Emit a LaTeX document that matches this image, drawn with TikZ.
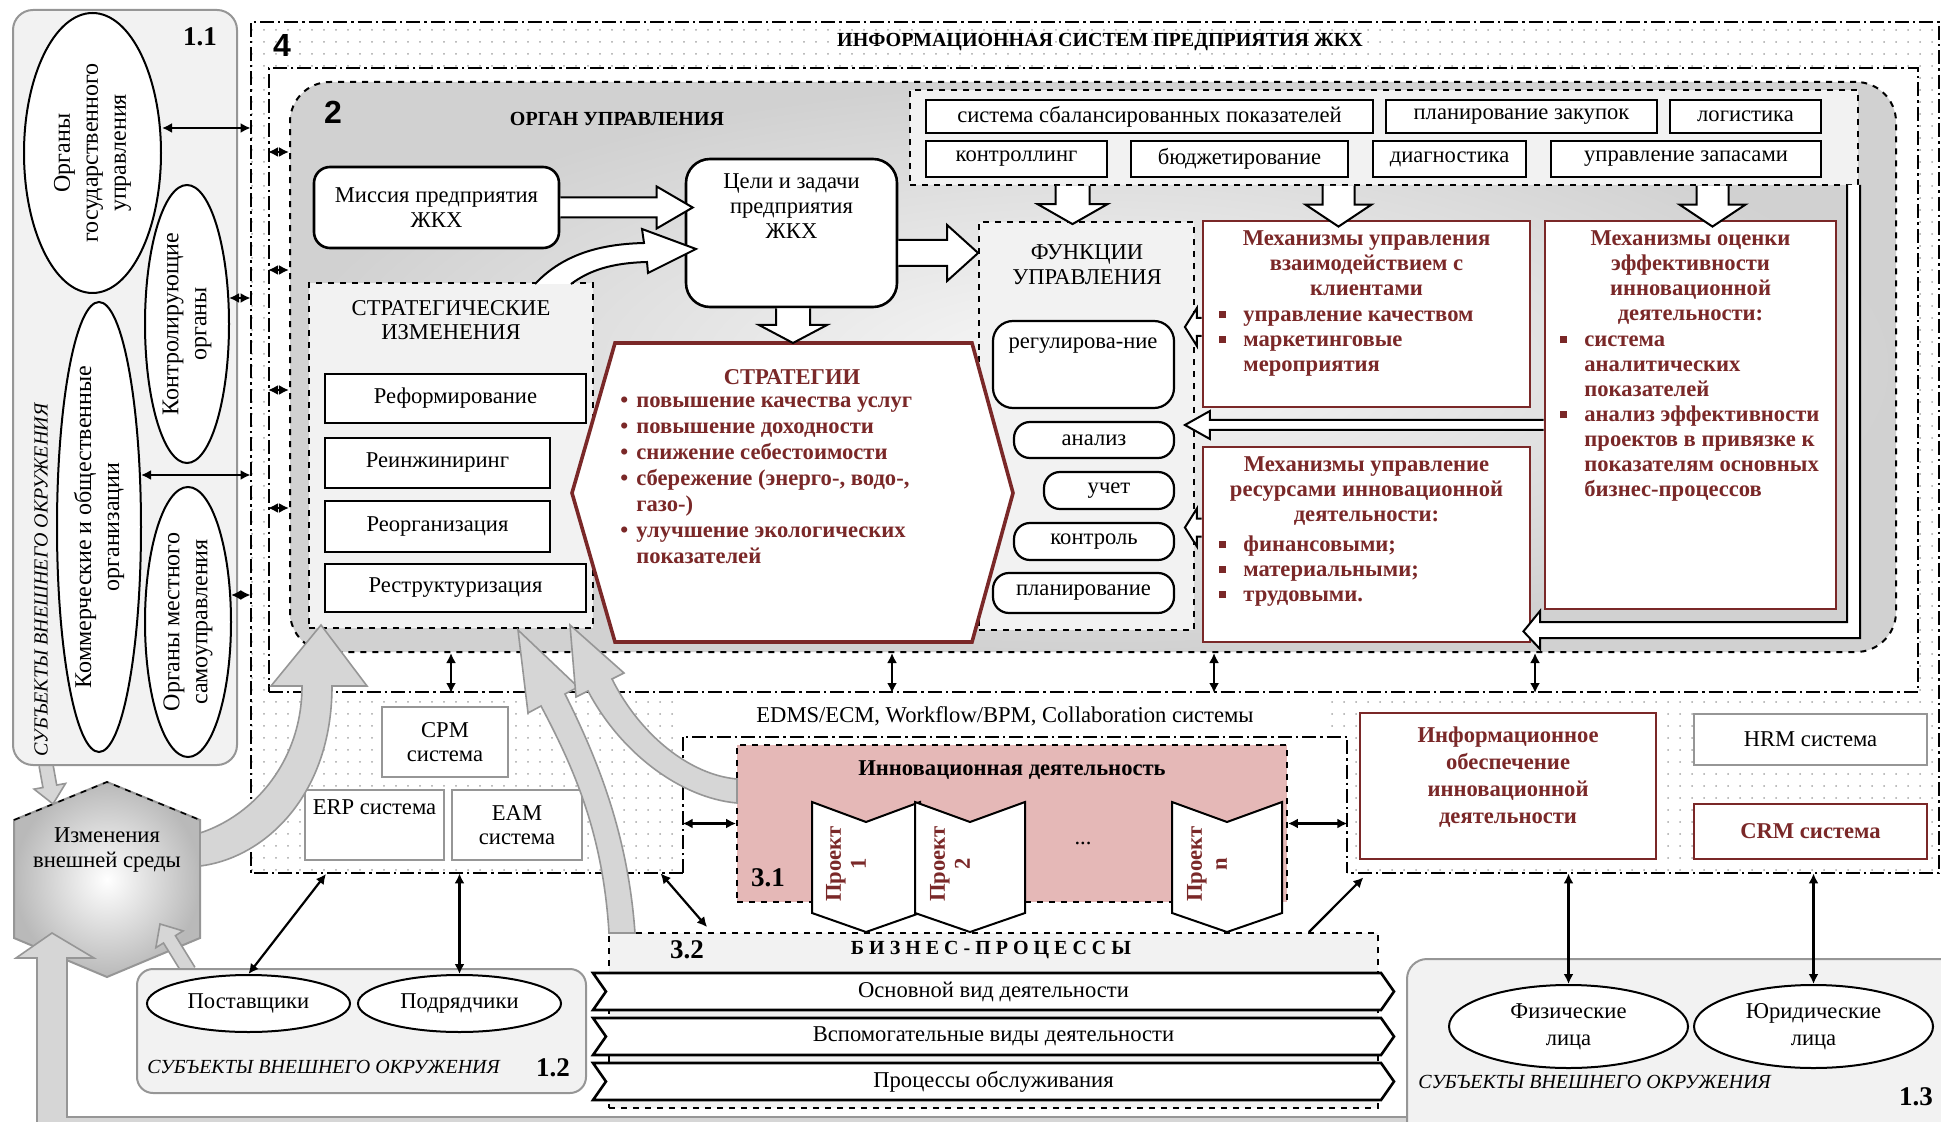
\documentclass[tikz,border=0pt]{standalone}
\usepackage{fontspec}
\setmainfont{Liberation Serif}
\setsansfont{Liberation Sans}
\usetikzlibrary{shapes.geometric,shapes.symbols,arrows.meta,positioning,calc,patterns.meta}
\definecolor{mechred}{RGB}{122,40,40}
\definecolor{pinkbox}{RGB}{229,184,183}
\definecolor{panelgray}{RGB}{242,242,242}
\definecolor{arrowgray}{RGB}{214,214,214}
\definecolor{edgegray}{RGB}{150,150,150}
\definecolor{dotgray}{RGB}{165,165,165}
\newcommand{\normtext}{\fontsize{11.3}{12.3}\selectfont}
\newcommand{\boldtext}{\fontsize{11.3}{12.5}\selectfont\bfseries}
\newcommand{\sq}{\raisebox{1.5pt}{\rule{3.4pt}{3.4pt}}\hspace*{8.6pt}}
\newcommand{\ind}{\hspace*{12pt}}
\newcommand{\rb}{\textbullet\hspace*{4pt}}
\newcommand{\rind}{\hphantom{\textbullet}\hspace*{4pt}}
% block arrow: [style]{from}{to}{shaft half}{head half}{head length}
\newcommand{\blockarrow}[6][hollow]{%
  \coordinate (ba-s) at (#2);
  \coordinate (ba-t) at (#3);
  \coordinate (ba-h) at ($(ba-t)!#6!(ba-s)$);
  \path[#1, draw=none] ($(ba-s)!#4!90:(ba-t)$) -- ($(ba-h)!#4!90:(ba-t)$) -- ($(ba-h)!#5!90:(ba-t)$) -- (ba-t) -- ($(ba-h)!#5!-90:(ba-t)$) -- ($(ba-h)!#4!-90:(ba-t)$) -- ($(ba-s)!#4!-90:(ba-t)$) -- cycle;
  \path[#1, fill=none] ($(ba-s)!#4!90:(ba-t)$) -- ($(ba-h)!#4!90:(ba-t)$) -- ($(ba-h)!#5!90:(ba-t)$) -- (ba-t) -- ($(ba-h)!#5!-90:(ba-t)$) -- ($(ba-h)!#4!-90:(ba-t)$) -- ($(ba-s)!#4!-90:(ba-t)$);
}

\begin{document}
\begin{tikzpicture}[
x=0.5pt, y=-0.5pt,
font=\normtext,
boxspan/.style args={#1/#2/#3/#4}{minimum width={(#3-#1)*0.5pt}, minimum height={(#4-#2)*0.5pt}, at={({(#1+#3)/2},{(#2+#4)/2})}},
box/.style={draw, line width=1.2pt, fill=white, inner sep=0pt, align=center},
softbox/.style={draw=edgegray, line width=1pt, fill=white, inner sep=0pt, align=center},
redbox/.style={draw=mechred, line width=1.4pt, fill=white, inner sep=0pt},
panel/.style={draw, dashed, line width=0.9pt, fill=panelgray, inner sep=0pt},
oval/.style={draw, ellipse, line width=1pt, fill=white, inner sep=0pt, align=center},
ovaltext/.style={rotate=90, align=center, font=\fontsize{12}{14}\selectfont, inner sep=0pt},
envpanel/.style={draw=edgegray, fill=panelgray, line width=1pt, rounded corners=10pt, inner sep=0pt},
isframe/.style={line width=1pt, dash pattern=on 7pt off 2pt on 1.2pt off 2pt},
dblarrow/.style={{Latex[length=5pt,width=5pt]}-{Latex[length=5pt,width=5pt]}, line width=1.1pt},
onearrow/.style={-{Latex[length=5pt,width=5pt]}, line width=1.1pt},
hollow/.style={draw, line width=1pt, fill=white},
grayarrow/.style={draw=edgegray, line width=0.8pt, fill=arrowgray},
redtitle/.style={text=mechred, font=\boldtext, align=center, inner sep=0pt},
redlist/.style={text=mechred, font=\boldtext, align=left, inner sep=0pt},
number/.style={font=\fontsize{13.5}{14}\selectfont\bfseries, inner sep=0pt},
bignum/.style={font=\fontsize{16}{16}\selectfont\sffamily\bfseries, inner sep=0pt},
subject/.style={font=\fontsize{10}{12}\selectfont\itshape, inner sep=0pt},
procarrow/.style={draw, line width=1.3pt, fill=white, signal, signal to=east, signal from=west, signal pointer angle=110, minimum width=400.5pt, minimum height=18.5pt, inner sep=0pt},
project/.style={draw, line width=1pt, fill=white},
projtext/.style={rotate=90, text=mechred, font=\boldtext, align=center, inner sep=0pt}
]
\useasboundingbox (0,0) rectangle (1941,1122);
\clip (0,0) rectangle (1941,1122);

% information system of the enterprise
\node[boxspan=251/22/1939/873, inner sep=0pt, pattern={Dots[distance=6pt, radius=0.5pt]}, pattern color=dotgray] (sys4) {};
\node[boxspan=683/737/1347/873, inner sep=0pt, fill=white] (frame31) {};
\draw[isframe] (frame31.south west) -- (sys4.south west) -- (sys4.north west) -- (sys4.north east) -- (sys4.south east) -- (frame31.south east);
\draw[isframe] (frame31.south west) -- (frame31.north west) -- (frame31.north east) -- (frame31.south east);
\node[boxspan=269/68/1918/692, inner sep=0pt, fill=white, draw, isframe] (inner4) {};
\node[bignum] (n4) at (282,45) {4};
\node[font=\fontsize{10}{12}\selectfont\bfseries] (istitle) at (1100,42) {ИНФОРМАЦИОННАЯ СИСТЕМ ПРЕДПРИЯТИЯ ЖКХ};
\node[boxspan=683/700/1327/733, fill=white, inner sep=0pt] (edms) {EDMS/ECM, Workflow/BPM, Collaboration системы};

% management body
\node[boxspan=290/82/1896/652, inner sep=0pt, draw, dashed, line width=1pt, rounded corners=20pt, inner color=gray!5, outer color=gray!36] (organ) {};
\node[bignum] (n2) at (333,112) {2};
\node[font=\fontsize{10}{12}\selectfont\bfseries] (organtitle) at (617,119) {ОРГАН УПРАВЛЕНИЯ};

\node[panel, boxspan=910/90/1858/185] (metrics) {};
\node[box, boxspan=926/100/1373/133] (ssp) {система сбалансированных показателей};
\node[box, boxspan=1386/100/1657/133] (purch) {планирование закупок};
\node[box, boxspan=1670/100/1821/133] (logist) {логистика};
\node[box, boxspan=926/141/1107/177] (controlling) {контроллинг};
\node[box, boxspan=1131/141/1348/177] (budget) {бюджетирование};
\node[box, boxspan=1373/141/1526/177] (diagn) {диагностика};
\node[box, boxspan=1551/141/1821/177] (stock) {управление запасами};

\node[box, rounded corners=8pt, line width=1.3pt, boxspan=314/167/559/248] (mission) {Миссия предприятия\\ЖКХ};
\node[box, rounded corners=12pt, line width=1.3pt, boxspan=686/159/897/307] (goals) {};
\node[align=center, anchor=north, inner sep=0pt] (goalstext) at ($(goals.north)+(0,16)$) {Цели и задачи\\предприятия\\ЖКХ};

\node[panel, boxspan=979/222/1194/630] (funcs) {};
\node[align=center, inner sep=0pt] (funcstitle) at (1087,265) {ФУНКЦИИ\\УПРАВЛЕНИЯ};
\node[box, line width=1.1pt, rounded corners=10pt, boxspan=993/321/1174/408] (reg) {};
\node[inner sep=0pt] (regtext) at (1083,346) {регулирова-ние};
\node[box, line width=1.1pt, rounded corners=8pt, boxspan=1014/422/1174/458] (anal) {анализ};
\node[box, line width=1.1pt, rounded corners=8pt, boxspan=1044/472/1174/509] (acc) {учет};
\node[box, line width=1.1pt, rounded corners=8pt, boxspan=1014/523/1174/560] (ctrl) {контроль};
\node[box, line width=1.1pt, rounded corners=8pt, boxspan=993/573/1174/613] (plan) {планирование};

\node[panel, boxspan=309/283/593/628] (strchg) {};
\node[align=center, inner sep=0pt] (strchgtitle) at (451,320) {СТРАТЕГИЧЕСКИЕ\\ИЗМЕНЕНИЯ};
\node[box, line width=1.4pt, boxspan=325/374/586/423] (reform) {Реформирование};
\node[box, line width=1.4pt, boxspan=325/438/550/488] (reeng) {Реинжиниринг};
\node[box, line width=1.4pt, boxspan=325/501/550/552] (reorg) {Реорганизация};
\node[box, line width=1.4pt, boxspan=325/564/586/612] (restr) {Реструктуризация};

% strategies
\draw[mechred, line width=1.8pt, fill=white] (615,343) -- (972,343) -- (1013,493) -- (972,642) -- (615,642) -- (572,493) -- cycle;
\coordinate (strattop) at (793,343);
\node[redtitle] (strat) at (792,377) {СТРАТЕГИИ};
\node[redlist, anchor=north west, font=\fontsize{11.3}{13}\selectfont\bfseries] (stratlist) at (620,396) {\rb повышение качества услуг\\\rb повышение доходности\\\rb снижение себестоимости\\\rb сбережение (энерго-, водо-,\\\rind газо-)\\\rb улучшение экологических\\\rind показателей};

% mechanisms
\node[redbox, boxspan=1203/221/1530/407] (mechcli) {};
\node[redtitle, anchor=north] (mechclititle) at ($(mechcli.north)+(0,11)$) {Механизмы управления\\взаимодействием с\\клиентами};
\node[redlist, anchor=north west] (mechclilist) at (1219,310) {\sq управление качеством\\\sq маркетинговые\\\ind мероприятия};
\node[redbox, boxspan=1203/447/1530/642] (mechres) {};
\node[redtitle, anchor=north] (mechrestitle) at ($(mechres.north)+(0,11)$) {Механизмы управление\\ресурсами инновационной\\деятельности:};
\node[redlist, anchor=north west] (mechreslist) at (1219,535) {\sq финансовыми;\\\sq материальными;\\\sq трудовыми.};
\node[redbox, boxspan=1545/221/1836/609] (mecheval) {};
\node[redtitle, anchor=north] (mechevaltitle) at ($(mecheval.north)+(0,11)$) {Механизмы оценки\\эффективности\\инновационной\\деятельности:};
\node[redlist, anchor=north west] (mechevallist) at (1560,335) {\sq система\\\ind аналитических\\\ind показателей\\\sq анализ эффективности\\\ind проектов в привязке к\\\ind показателям основных\\\ind бизнес-процессов};

% hollow arrows inside the management body
\blockarrow{mission.east}{$(mission.east -| goals.west)+(8,0)$}{5pt}{10.5pt}{18pt}
\blockarrow{$(goals.east)+(0,20)$}{$(goals.east -| funcs.west)+(0,20)$}{6.5pt}{14pt}{15.5pt}
\blockarrow{goals.south -| strattop}{strattop}{8.5pt}{17pt}{9pt}
\blockarrow{$(funcs.north |- metrics.south)+(-14,0)$}{$(funcs.north)+(-14,3)$}{8.5pt}{17.5pt}{10pt}
\blockarrow{$(mechcli.north |- metrics.south)+(-28,0)$}{$(mechcli.north)+(-28,7)$}{8pt}{16.5pt}{11pt}
\blockarrow{$(mecheval.north |- metrics.south)+(22,0)$}{$(mecheval.north)+(22,7)$}{8pt}{16.5pt}{11pt}
\blockarrow{$(mechcli.west)+(0,13)$}{$(mechcli.west -| funcs.east)+(-10,13)$}{4.5pt}{9.5pt}{6pt}
\blockarrow{$(mecheval.west)+(0,10)$}{$(mecheval.west -| funcs.east)+(-10,10)$}{2.5pt}{7pt}{12.5pt}
\blockarrow{$(mechres.west)+(0,-17)$}{$(mechres.west -| funcs.east)+(-10,-17)$}{4.5pt}{9.5pt}{6pt}
\coordinate (ltip) at ($(mechres.south east)+(-8,-12)$);
\path[hollow, draw=none] (1847,185) -- (1847,622) -- (1540,622) -- (1540,611) -- (ltip) -- (1540,649) -- (1540,638) -- (1860,638) -- (1860,185) -- cycle;
\path[hollow, fill=none] (1847,185) -- (1847,622) -- (1540,622) -- (1540,611) -- (ltip) -- (1540,649) -- (1540,638) -- (1860,638) -- (1860,185);
\path[hollow, draw=none] (535,284) .. controls (565,252) and (605,244) .. (644,243) -- (642,229) -- (696,249) -- (648,273) -- (647,262) .. controls (612,263) and (590,270) .. (571,284) -- cycle;
\path[hollow, fill=none] (535,284) .. controls (565,252) and (605,244) .. (644,243) -- (642,229) -- (696,249) -- (648,273) -- (647,262) .. controls (612,263) and (590,270) .. (571,284);

% lower strip of the information system
\node[softbox, boxspan=382/707/508/777] (cpm) {CPM\\система};
\node[softbox, boxspan=305/790/444/860] (erp) {};
\node[inner sep=0pt] (erptext) at ($(erp.north)+(0,18)$) {ERP система};
\node[softbox, boxspan=452/790/582/860] (eam) {EAM\\система};
\node[boxspan=737/745/1287/902, inner sep=0pt, draw, dashed, line width=0.9pt, fill=pinkbox] (innov) {};
\node[font=\boldtext, inner sep=0pt] (innovtitle) at (1012,770) {Инновационная деятельность};
\node[number] (n31) at (768,878) {3.1};
\node[inner sep=0pt] (dots) at (1083,843) {...};
\draw[project] (812,802) -- (866,822) -- (920,802) -- (920,913) -- (866,932) -- (812,913) -- cycle;
\node[projtext] (proj1) at (846,864) {Проект\\1};
\draw[project] (915,802) -- (970,822) -- (1025,802) -- (1025,913) -- (970,932) -- (915,913) -- cycle;
\node[projtext] (proj2) at (950,864) {Проект\\2};
\draw[project] (1172,802) -- (1227,822) -- (1282,802) -- (1282,913) -- (1227,932) -- (1172,913) -- cycle;
\node[projtext] (projn) at (1207,864) {Проект\\n};
\node[draw=mechred, line width=0.8pt, fill=white, inner sep=0pt, boxspan=1360/713/1656/859] (infosup) {};
\node[redtitle, font=\fontsize{11.3}{13.5}\selectfont\bfseries] (infosuptext) at (1508,777) {Информационное\\обеспечение\\инновационной\\деятельности};
\node[softbox, boxspan=1694/714/1927/765] (hrm) {HRM система};
\node[draw=mechred, line width=1pt, fill=white, inner sep=0pt, boxspan=1694/804/1927/859, text=mechred, font=\boldtext] (crm) {CRM система};

% environment change
\draw[draw=edgegray, line width=1pt, inner color=white, outer color=gray!55] (107,782) -- (200,820) -- (200,938) -- (107,977) -- (14,938) -- (14,820) -- cycle;
\draw[dashed, line width=0.8pt] (14,820) -- (107,782) -- (200,820);
\node[align=center, inner sep=0pt] (envchg) at (107,850) {Изменения\\внешней среды};
\path[grayarrow] (16,958) -- (52,933) -- (94,958) -- (67,958) -- (67,1117) -- (1420,1117) -- (1420,1160) -- (37,1160) -- (37,958) -- cycle;

% external subjects 1.1
\blockarrow[grayarrow]{46,765}{53,804}{3.5pt}{8pt}{9pt}
\node[envpanel, boxspan=13/10/237/765] (ext11) {};
\node[number] (n11) at (200,37) {1.1};
\node[oval, boxspan=24/13/161/293] (govorg) {};
\node[ovaltext] (govtext) at (govorg) {Органы\\государственного\\управления};
\node[oval, boxspan=145/185/229/463] (ctrlorg) {};
\node[ovaltext] (ctrltext) at (ctrlorg) {Контролирующие\\органы};
\node[oval, boxspan=57/302/141/752] (commorg) {};
\node[ovaltext] (commtext) at (commorg) {Коммерческие и общественные\\организации};
\node[oval, boxspan=145/487/231/757] (localorg) {};
\node[ovaltext] (localtext) at (localorg) {Органы местного\\самоуправления};
\node[subject, rotate=90] (ext11lbl) at (41,580) {СУБЪЕКТЫ ВНЕШНЕГО ОКРУЖЕНИЯ};

% external subjects 1.2
\blockarrow[grayarrow]{189,971}{160,924}{3.5pt}{8pt}{9pt}
\node[envpanel, rounded corners=8pt, boxspan=137/969/586/1093] (ext12) {};
\node[oval, boxspan=147/975/350/1032] (suppl) {Поставщики};
\node[oval, boxspan=358/975/561/1032] (contr) {Подрядчики};
\node[subject, anchor=west] (ext12lbl) at (147,1067) {СУБЪЕКТЫ ВНЕШНЕГО ОКРУЖЕНИЯ};
\node[number] (n12) at (553,1068) {1.2};

% external subjects 1.3
\node[envpanel, boxspan=1407/959/1960/1150] (ext13) {};
\node[oval, boxspan=1449/985/1688/1068, font=\fontsize{11.3}{13.5}\selectfont] (phys) {Физические\\лица};
\node[oval, boxspan=1694/985/1933/1068, font=\fontsize{11.3}{13.5}\selectfont] (legal) {Юридические\\лица};
\node[subject, anchor=west] (ext13lbl) at (1418,1082) {СУБЪЕКТЫ ВНЕШНЕГО ОКРУЖЕНИЯ};
\node[number] (n13) at (1916,1097) {1.3};

% business processes
\node[panel, boxspan=609/933/1378/1108] (bp) {};
\node[number] (n32) at (687,950) {3.2};
\node[font=\fontsize{10}{12}\selectfont\bfseries] (bptitle) at (991,950) {Б И З Н Е С - П Р О Ц Е С С Ы};
\node[procarrow] (bpmain) at (993.5,991.5) {Основной вид деятельности};
\node[procarrow] (bpaux) at (993.5,1036.5) {Вспомогательные виды деятельности};
\node[procarrow] (bpserv) at (993.5,1081.5) {Процессы обслуживания};

% gray flows of change
\path[grayarrow] (200,833) .. controls (255,815) and (302,760) .. (302,686) -- (271,686) -- (321,625) -- (367,686) -- (332,686) .. controls (332,795) and (265,858) .. (200,866) -- cycle;
\path[grayarrow] (609,933) .. controls (603,835) and (575,770) .. (541,706) -- (528,713) -- (518,630) -- (578,687) -- (565,694) .. controls (598,760) and (628,835) .. (635,933) -- cycle;
\path[grayarrow] (588,691) .. controls (620,752) and (680,798) .. (737,803) -- (737,779) .. controls (690,775) and (640,735) .. (612,679) -- (624,673) -- (570,625) -- (576,697) -- cycle;

% links
\draw[dblarrow] ($(govorg.east)+(0,-25)$) -- ($(govorg.east -| sys4.west)+(0,-25)$);
\draw[dblarrow] ($(ctrlorg.east)+(-1,-26)$) -- ($(ctrlorg.east -| sys4.west)+(0,-26)$);
\draw[dblarrow] ($(commorg.east)+(-1,-52)$) -- ($(commorg.east -| sys4.west)+(0,-52)$);
\draw[dblarrow] ($(localorg.east)+(-1,-27)$) -- ($(localorg.east -| sys4.west)+(0,-27)$);
\draw[dblarrow] ($(organ.west -| inner4.west)+(0,-215)$) -- ($(organ.west)+(0,-215)$);
\draw[dblarrow] ($(organ.west -| inner4.west)+(0,-97)$) -- ($(organ.west)+(0,-97)$);
\draw[dblarrow] ($(organ.west -| inner4.west)+(0,23)$) -- ($(organ.west)+(0,23)$);
\draw[dblarrow] ($(organ.west -| inner4.west)+(0,141)$) -- ($(organ.west)+(0,141)$);
\draw[dblarrow] (organ.south -| strchg.south) -- (inner4.south -| strchg.south);
\draw[dblarrow] ($(organ.south west)+(603,0)$) -- ($(inner4.south west)+(624,0)$);
\draw[dblarrow] ($(organ.south west)+(925,0)$) -- ($(inner4.south west)+(946,0)$);
\draw[dblarrow] ($(organ.south west)+(1246,0)$) -- ($(inner4.south west)+(1267,0)$);
\draw[dblarrow] (innov.west) -- (innov.west -| frame31.west);
\draw[dblarrow] (innov.east) -- (innov.east -| frame31.east);
\draw[dblarrow] (suppl.north) -- ($(erp.south west)+(22,13)$);
\draw[dblarrow] (contr.north) -- (contr.north |- sys4.south);
\draw[dblarrow] ($(frame31.south west)+(-22,0)$) -- ($(bp.north west)+(99,-5)$);
\draw[onearrow] ($(bp.north east)+(-70,0)$) -- ($(frame31.south east)+(16,4)$);
\draw[dblarrow] (phys.north |- sys4.south) -- (phys.north);
\draw[dblarrow] (legal.north |- sys4.south) -- (legal.north);
\end{tikzpicture}
\end{document}
